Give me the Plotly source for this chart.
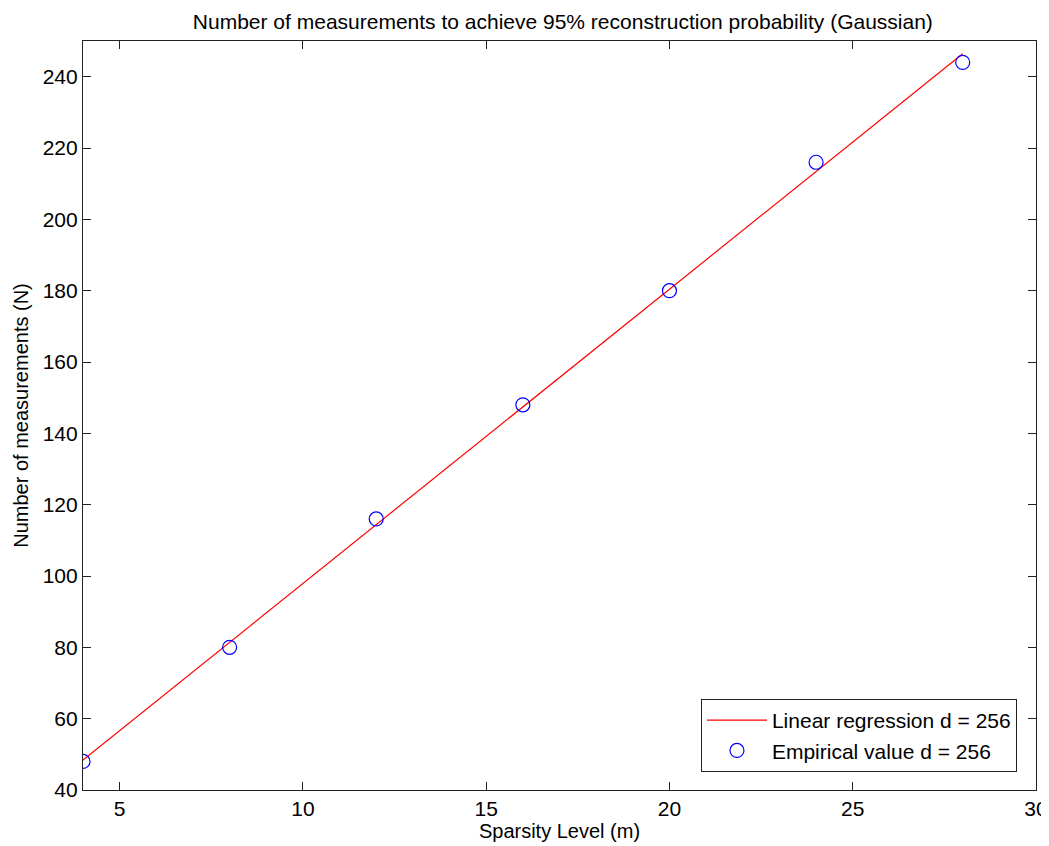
import plotly.graph_objects as go

# Empirical measurements
sparsity = [4, 8, 12, 16, 20, 24, 28]
measurements = [48, 80, 116, 148, 180, 216, 244]

# Regression line endpoints
reg_x = [4, 28]
reg_y = [48.4, 246.4]

FONT = "Liberation Sans, Arial, Helvetica, sans-serif"

fig = go.Figure()
fig.add_trace(go.Scatter(x=reg_x, y=reg_y, mode="lines", name="Linear regression d = 256",
                         line=dict(color="#ff0000", width=1.2)))
fig.add_trace(go.Scatter(x=sparsity, y=measurements, mode="markers", name="Empirical value d = 256",
                         marker=dict(symbol="circle-open", size=14, color="#0000ff",
                                     line=dict(width=1.2, color="#0000ff"))))

axis_common = dict(showgrid=False, zeroline=False, showline=True, linecolor="#222",
                   linewidth=1.2, mirror="ticks", ticks="inside", ticklen=8,
                   tickcolor="#222", automargin=False,
                   tickfont=dict(size=21, color="#000", family=FONT))

# page body has an 8px margin, so the figure is sized a bit smaller
fig.update_layout(
    width=1041, height=838,
    paper_bgcolor="white", plot_bgcolor="white",
    margin=dict(l=75, r=13, t=33, b=56, autoexpand=False),
    font=dict(family=FONT, color="#000"),
    title=dict(text="Number of measurements to achieve 95% reconstruction probability (Gaussian)",
               x=0.533, xanchor="center", y=0.992, yanchor="top",
               font=dict(size=21, family=FONT)),
    xaxis=dict(range=[4, 30], tickvals=[5, 10, 15, 20, 25, 30],
               title=dict(text="Sparsity Level (m)", font=dict(size=20), standoff=2),
               **axis_common),
    yaxis=dict(range=[40, 250], tickvals=list(range(40, 241, 20)),
               title=dict(text="Number of measurements (N)", font=dict(size=20), standoff=8),
               **axis_common),
    legend=dict(x=0.98, y=0.024, xanchor="right", yanchor="bottom",
                bgcolor="white", bordercolor="#222", borderwidth=1,
                font=dict(size=21, family=FONT), itemwidth=60,
                tracegroupgap=0),
    showlegend=True,
)

fig.write_html("out.html")
